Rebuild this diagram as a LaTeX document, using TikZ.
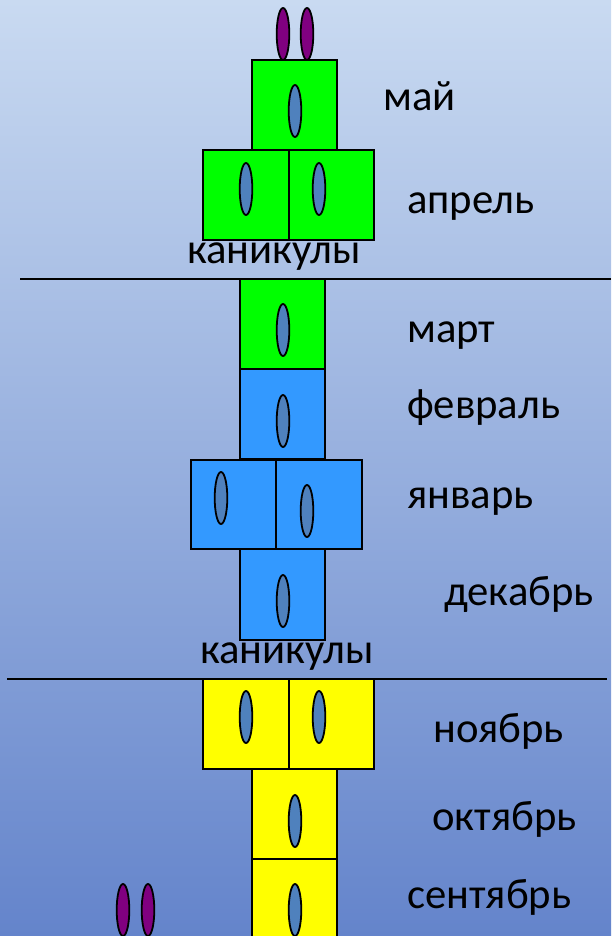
\documentclass[tikz,border=0pt]{standalone}
\usepackage{fontspec}
\setmainfont{Carlito}
\definecolor{bgtop}{HTML}{C9DAF1}
\definecolor{bgbot}{HTML}{6484CB}
\definecolor{grn}{HTML}{00FF00}
\definecolor{blu}{HTML}{3399FF}
\definecolor{yel}{HTML}{FFFF00}
\definecolor{eyeblue}{HTML}{4F81BD}
\definecolor{purp}{HTML}{800080}
\begin{document}
\begin{tikzpicture}[x=1pt,y=-1pt,
  win/.style={draw=black,line width=2pt},
  eye/.style={draw=black,line width=1.8pt,fill=eyeblue},
  ear/.style={draw=black,line width=1.8pt,fill=purp},
  sep/.style={draw=black,line width=2pt},
  lbl/.style={anchor=base west,inner sep=0pt,font=\fontsize{42.7}{46}\selectfont}]
\useasboundingbox (0,0) rectangle (611,936);
\shade[top color=bgtop,bottom color=bgbot] (0,0) rectangle (611,936);
% ---- top (spring) ----
\draw[ear] (283,34) ellipse [x radius=6.3,y radius=26];
\draw[ear] (307,34) ellipse [x radius=6.3,y radius=26];
\draw[win,fill=grn] (252,60) rectangle (337,150);
\draw[eye] (295,111) ellipse [x radius=6.3,y radius=26];
\draw[win,fill=grn] (203,150) rectangle (289,240);
\draw[win,fill=grn] (289,150) rectangle (374,240);
\draw[eye] (246,189) ellipse [x radius=6.3,y radius=26];
\draw[eye] (319,189) ellipse [x radius=6.3,y radius=26];
\node[lbl] (may) at (383,111) {май};
\node[lbl] (apr) at (407,213) {апрель};
\node[lbl] (kan1) at (187,263) {каникулы};
\coordinate (l1a) at (20,279);
\coordinate (l1b) at (611,279);
\draw[sep] (l1a) -- (l1b);
% ---- middle (winter) ----
\draw[win,fill=grn] (240,279) rectangle (325,369);
\draw[eye] (283,330) ellipse [x radius=6.3,y radius=26];
\draw[win,fill=blu] (240,369) rectangle (325,459);
\draw[eye] (283,421) ellipse [x radius=6.3,y radius=26];
\draw[win,fill=blu] (191,460) rectangle (276,549);
\draw[win,fill=blu] (276,460) rectangle (362,549);
\draw[eye] (221,498) ellipse [x radius=6.3,y radius=26];
\draw[eye] (307,511) ellipse [x radius=6.3,y radius=26];
\draw[win,fill=blu] (240,549) rectangle (325,640);
\draw[eye] (283,601) ellipse [x radius=6.3,y radius=26];
\node[lbl] (mar) at (407,342) {март};
\node[lbl] (feb) at (407,418) {февраль};
\node[lbl] (jan) at (407,508) {январь};
\node[lbl] (dec) at (444,605) {декабрь};
\node[lbl] (kan2) at (200,663) {каникулы};
\coordinate (l2a) at (7,679);
\coordinate (l2b) at (607,679);
\draw[sep] (l2a) -- (l2b);
% ---- bottom (autumn) ----
\draw[win,fill=yel] (203,679) rectangle (289,769);
\draw[win,fill=yel] (289,679) rectangle (374,769);
\draw[eye] (246,717) ellipse [x radius=6.3,y radius=26];
\draw[eye] (319,717) ellipse [x radius=6.3,y radius=26];
\draw[win,fill=yel] (252,769) rectangle (337,859);
\draw[eye] (295,821) ellipse [x radius=6.3,y radius=26];
\draw[win,fill=yel] (252,859) rectangle (337,950);
\draw[eye] (295,910) ellipse [x radius=6.3,y radius=26];
\draw[ear] (123,910) ellipse [x radius=6.3,y radius=26];
\draw[ear] (148,910) ellipse [x radius=6.3,y radius=26];
\node[lbl] (nov) at (433,742) {ноябрь};
\node[lbl] (oct) at (432,830) {октябрь};
\node[lbl] (sep) at (407,908) {сентябрь};
\end{tikzpicture}
\end{document}
